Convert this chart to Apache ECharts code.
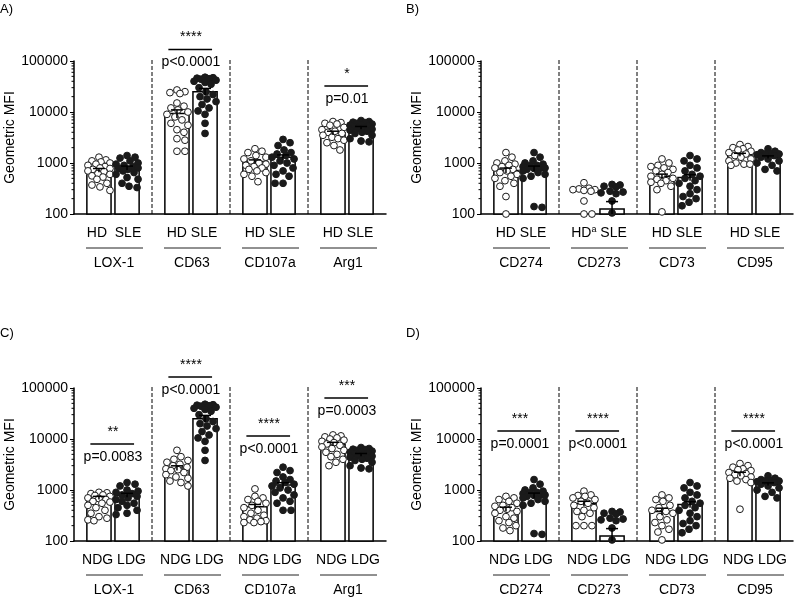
<!DOCTYPE html>
<html><head><meta charset="utf-8">
<script src="https://cdn.jsdelivr.net/npm/echarts@6/dist/echarts.min.js"></script>
<style>html,body{margin:0;padding:0;background:#fff}#c{width:794px;height:597px}</style>
</head><body><div id="c"></div><script>
const FONT = '"Liberation Sans", Arial, Helvetica, sans-serif';

// ---- categories / labels ----
const groupsAC = ['LOX-1', 'CD63', 'CD107a', 'Arg1'];
const groupsBD = ['CD274', 'CD273', 'CD73', 'CD95'];
const pairA = ['HD  SLE', 'HD SLE', 'HD SLE', 'HD SLE'];
const pairB = ['HD SLE', '{n|HD}{s|a}{n| SLE}', 'HD SLE', 'HD SLE'];
const pairCD = ['NDG LDG', 'NDG LDG', 'NDG LDG', 'NDG LDG'];
const yTicks = [100, 1000, 10000, 100000];
const minorTickValues = [200,300,400,500,600,700,800,900,2000,3000,4000,5000,6000,7000,8000,9000,20000,30000,40000,50000,60000,70000,80000,90000];

// ---- panel A: HD (open) vs SLE (filled) ----
const A_HD = [
  [1300,1150,1100,1050,1000,950,900,850,800,780,750,700,680,620,600,560,530,480,400,370,340,290],
  [27000,25000,24000,23000,15000,13000,12000,11000,10000,9000,8000,7000,6000,5500,4500,4000,3000,2800,1700,1700],
  [1900,1700,1600,1400,1300,1200,1100,1000,950,900,850,800,750,700,650,600,550,430],
  [6500,6200,6000,5800,5500,5000,4500,4200,4000,3800,3500,3200,3000,2800,2500,2200,1800]
];
const A_SLE = [
  [1400,1300,1250,1100,1000,950,900,850,800,780,750,700,650,600,520,480,400,350,330],
  [48000,47000,46000,45000,44000,42000,40000,38000,35000,30000,25000,22000,20000,18000,16000,14000,12000,10500,9000,6000,3800],
  [2900,2500,2200,1800,1600,1500,1400,1300,1200,1100,1000,900,800,700,600,550,400,400],
  [6800,6500,6300,6200,6000,5800,5600,5500,5300,5100,5000,4800,4600,4400,4200,4000,3800,3500,3000,2700,2600]
];
const A_HD_mean = [720, 9300, 1070, 3900];
const A_HD_sem = [60, 1700, 80, 300];
const A_SLE_mean = [800, 25000, 1300, 4900];
const A_SLE_sem = [70, 4000, 140, 300];

// ---- panel B ----
const B_HD = [
  [1600,1300,1100,1000,950,900,850,800,750,700,650,600,550,500,450,400,350,220,100],
  [410,320,310,300,300,290,280,180,100,100],
  [1200,1000,900,850,800,750,700,650,600,550,500,480,450,420,400,350,300,110],
  [2300,2100,2000,1900,1800,1700,1600,1500,1400,1300,1200,1100,1000,950,950,900]
];
const B_SLE = [
  [1600,1300,1100,1000,950,900,880,850,800,800,780,750,700,650,600,550,500,140,135],
  [380,370,350,340,280,270,260,250,180,105],
  [1400,1200,1100,900,800,700,600,550,500,450,400,350,300,250,220,200,170,145],
  [1900,1700,1600,1550,1500,1500,1450,1400,1300,1200,1100,1000,900,750,700]
];
const B_HD_mean = [715, null, 545, 1450];
const B_HD_sem = [80, null, 60, 100];
const B_SLE_mean = [780, 125, 520, 1300];
const B_SLE_sem = [90, 50, 70, 80];

// ---- panel C: NDG (open) vs LDG (filled) ----
const C_NDG = [
  [900,880,850,800,780,750,700,680,650,600,580,550,500,450,400,350,300,280,260,250],
  [6000,4500,4000,3800,3500,3200,3000,2800,2600,2500,2400,2200,2000,1800,1700,1500,1400,1200],
  [1050,750,700,650,600,550,500,450,400,350,320,300,280,260,250,240,230,230],
  [12000,11500,11000,10500,10000,9500,9000,8500,8000,7500,7000,6500,6000,5500,5000,4500,4000,3500,3000]
];
const C_LDG = [
  [1400,1300,1200,1000,950,900,850,800,750,700,650,600,550,500,450,400,350,330],
  [48000,47000,46000,45000,44000,42000,40000,38000,35000,30000,25000,22000,20000,18000,16000,14000,12000,10500,9000,6000,3800],
  [2800,2400,2200,1800,1600,1500,1400,1300,1200,1100,1000,900,800,700,600,550,400,400],
  [6800,6500,6300,6200,6000,5800,5600,5500,5300,5100,5000,4800,4600,4400,4200,4000,3800,3500,3000,2700,2600]
];
const C_NDG_mean = [700, 2700, 470, 8000];
const C_NDG_sem = [50, 280, 50, 600];
const C_LDG_mean = [790, 25000, 1250, 4900];
const C_LDG_sem = [70, 4000, 140, 300];

// ---- panel D ----
const D_NDG = [
  [750,700,650,600,550,500,480,450,420,400,380,350,300,280,250,230,200,180,160],
  [950,800,780,750,700,650,600,550,500,450,400,380,350,300,200,200,200],
  [800,700,650,600,500,450,400,380,350,300,260,230,200,170,150,105],
  [3300,3000,2800,2600,2500,2400,2200,2100,2000,1900,1800,1700,1600,1500,1400,420]
];
const D_LDG = [
  [1600,1300,1100,1000,950,900,880,850,800,800,780,750,700,650,600,550,500,140,135],
  [380,370,350,340,280,270,260,250,180,105],
  [1400,1200,1100,900,800,700,600,550,500,450,400,350,300,250,220,200,170,145],
  [1900,1700,1600,1550,1500,1500,1450,1400,1300,1200,1100,1000,900,750,700]
];
const D_NDG_mean = [420, 540, 380, 2050];
const D_NDG_sem = [40, 60, 60, 180];
const D_LDG_mean = [780, 125, 520, 1300];
const D_LDG_sem = [90, 50, 70, 80];

// ---- significance annotations ----
const annA_group = [1, 3], annA_stars = ['****', '*'], annA_p = ['p<0.0001', 'p=0.01'];
const annC_group = [0, 1, 2, 3], annC_stars = ['**', '****', '****', '***'], annC_p = ['p=0.0083', 'p<0.0001', 'p<0.0001', 'p=0.0003'];
const annD_group = [0, 1, 3], annD_stars = ['***', '****', '****'], annD_p = ['p=0.0001', 'p<0.0001', 'p<0.0001'];
// vertical placement of the bracket lines (in axis units)
const annA_at = [168000, 32400];
const annC_at = [8000, 165000, 11500, 63700];
const annD_at = [14400, 14400, 14400];

// ---- layout ----
const OFF = 0.18, HW = 0.155;
const panels = [
  {label:'A)', lx:0, ly:3, grid:{left:74, top:61, width:312, height:153}, groups:groupsAC, pairs:pairA,
   open:A_HD, filled:A_SLE, om:A_HD_mean, os:A_HD_sem, fm:A_SLE_mean, fs:A_SLE_sem,
   ann:{g:annA_group, at:annA_at, s:annA_stars, p:annA_p}},
  {label:'B)', lx:406, ly:3, grid:{left:481, top:61, width:312, height:153}, groups:groupsBD, pairs:pairB,
   open:B_HD, filled:B_SLE, om:B_HD_mean, os:B_HD_sem, fm:B_SLE_mean, fs:B_SLE_sem,
   ann:{g:[], at:[], s:[], p:[]}},
  {label:'C)', lx:0, ly:327, grid:{left:74, top:388, width:312, height:153}, groups:groupsAC, pairs:pairCD,
   open:C_NDG, filled:C_LDG, om:C_NDG_mean, os:C_NDG_sem, fm:C_LDG_mean, fs:C_LDG_sem,
   ann:{g:annC_group, at:annC_at, s:annC_stars, p:annC_p}},
  {label:'D)', lx:406, ly:327, grid:{left:481, top:388, width:312, height:153}, groups:groupsBD, pairs:pairCD,
   open:D_NDG, filled:D_LDG, om:D_NDG_mean, os:D_NDG_sem, fm:D_LDG_mean, fs:D_LDG_sem,
   ann:{g:annD_group, at:annD_at, s:annD_stars, p:annD_p}}
];

function swarm(ys, D, maxW) {
  const order = ys.map((y, i) => i).sort((a, b) => ys[a] - ys[b]);
  const placed = [], xs = new Array(ys.length);
  for (const i of order) {
    const y = ys[i];
    let best = 0, bestScore = -Infinity;
    for (let k = 0; k <= 2 * maxW; k++) {
      const dx = (k % 2 ? 1 : -1) * Math.ceil(k / 2);
      let md = Infinity;
      for (const p of placed) {
        const d = Math.hypot(p[0] - dx, p[1] - y);
        if (d < md) md = d;
      }
      if (md >= D) { best = dx; bestScore = Infinity; break; }
      if (md > bestScore) { bestScore = md; best = dx; }
    }
    xs[i] = best;
    placed.push([best, y]);
  }
  return xs;
}

const txt = (x, y, text, extra) => ({type:'text', x, y, style:Object.assign({text, font:'14px ' + FONT, fill:'#000', align:'center', verticalAlign:'middle'}, extra || {})});

const xAxes = [], yAxes = [], grids = [], series = [], titles = [];
panels.forEach((P, i) => {
  grids.push(Object.assign({containLabel:false}, P.grid));
  titles.push({text:P.label, left:P.lx, top:P.ly, padding:0, textStyle:{fontSize:13, fontWeight:'normal', fontFamily:FONT, color:'#000'}});
  xAxes.push({gridIndex:i, type:'value', min:-0.5, max:3.5,
    axisLine:{show:true, onZero:false, lineStyle:{color:'#000', width:1.5}},
    axisTick:{show:false}, axisLabel:{show:false}, splitLine:{show:false}});
  yAxes.push({gridIndex:i, type:'log', logBase:10, min:100, max:100000,
    axisLine:{show:true, onZero:false, lineStyle:{color:'#000', width:1.5}},
    axisTick:{show:true, length:4, lineStyle:{color:'#000', width:1}},
    axisLabel:{color:'#000', fontSize:14, fontFamily:FONT, margin:6, formatter:v => String(Math.round(v))},
    splitLine:{show:false},
    name:'Geometric MFI', nameLocation:'middle', nameGap:55,
    nameTextStyle:{fontSize:14, color:'#000', fontFamily:FONT}});
  const base = {type:'custom', coordinateSystem:'cartesian2d', xAxisIndex:i, yAxisIndex:i, encode:{x:0, y:1}, silent:true, clip:false};

  // dashed separators
  series.push(Object.assign({}, base, {z:1, data:[[0.5,1000],[1.5,1000],[2.5,1000]],
    renderItem(params, api) {
      const p1 = api.coord([api.value(0), 100]), p2 = api.coord([api.value(0), 100000]);
      return {type:'line', shape:{x1:p1[0], y1:p1[1], x2:p2[0], y2:p2[1] - 3}, style:{stroke:'#000', lineWidth:1, lineDash:[4, 2]}};
    }}));

  // bars
  const barData = [], errData = [];
  for (let g = 0; g < 4; g++) {
    if (P.om[g] != null) { barData.push([g - OFF, P.om[g]]); errData.push([g - OFF, P.om[g], P.os[g]]); }
    if (P.fm[g] != null) { barData.push([g + OFF, P.fm[g]]); errData.push([g + OFF, P.fm[g], P.fs[g]]); }
  }
  series.push(Object.assign({}, base, {z:2, data:barData,
    renderItem(params, api) {
      const x = api.value(0), v = api.value(1);
      const a = api.coord([x - HW, v]), b = api.coord([x + HW, 100]);
      return {type:'rect', shape:{x:a[0], y:a[1], width:b[0] - a[0], height:b[1] - a[1]}, style:{fill:'#fff', stroke:'#000', lineWidth:1.5}};
    }}));

  // dots
  const dotData = [];
  for (let g = 0; g < 4; g++) { dotData.push([g, 1000, 0]); dotData.push([g, 1000, 1]); }
  series.push(Object.assign({}, base, {z:3, data:dotData,
    renderItem(params, api) {
      const g = api.value(0), c = api.value(2);
      const vals = (c ? P.filled : P.open)[g];
      const cx = api.coord([g + (c ? OFF : -OFF), 1000])[0];
      const ys = vals.map(v => api.coord([0, v])[1]);
      const xs = swarm(ys, 7.4, 11);
      return {type:'group', children:ys.map((y, k) => ({type:'circle', shape:{cx:cx + xs[k], cy:y, r:3.4},
        style:{fill:c ? '#1a1a1a' : '#fff', stroke:'#1a1a1a', lineWidth:1}}))};
    }}));

  // error bars (mean ± SEM)
  series.push(Object.assign({}, base, {z:4, data:errData,
    renderItem(params, api) {
      const x = api.value(0), m = api.value(1), s = api.value(2);
      const top = api.coord([x, m + s]), bot = api.coord([x, Math.max(100, m - s)]);
      return {type:'group', children:[
        {type:'line', shape:{x1:top[0], y1:top[1], x2:bot[0], y2:bot[1]}, style:{stroke:'#000', lineWidth:1.5}},
        {type:'line', shape:{x1:top[0] - 6, y1:top[1], x2:top[0] + 6, y2:top[1]}, style:{stroke:'#000', lineWidth:1.5}}
      ]};
    }}));

  // x labels
  series.push(Object.assign({}, base, {z:5, data:[[0,1000],[1,1000],[2,1000],[3,1000]],
    renderItem(params, api) {
      const g = params.dataIndex;
      const p = api.coord([api.value(0), 100]);
      const cx = p[0] + 1, by = p[1];
      return {type:'group', children:[
        txt(cx, by + 19, P.pairs[g], {rich:{n:{font:'14px ' + FONT, fill:'#000'}, s:{font:'9px ' + FONT, fill:'#000', verticalAlign:'top', padding:[0,0,6,0]}}}),
        {type:'line', shape:{x1:cx - 28, y1:by + 34, x2:cx + 29, y2:by + 34}, style:{stroke:'#222', lineWidth:1}},
        txt(cx, by + 49, P.groups[g])
      ]};
    }}));

  // significance annotations
  series.push(Object.assign({}, base, {z:5, data:P.ann.g.map((g, k) => [g, P.ann.at[k]]),
    renderItem(params, api) {
      const k = params.dataIndex, g = api.value(0), h = api.value(1);
      const a = api.coord([g - 0.29, h]), b = api.coord([g + 0.27, h]), c = api.coord([g, h]);
      return {type:'group', children:[
        {type:'line', shape:{x1:a[0], y1:a[1], x2:b[0], y2:b[1]}, style:{stroke:'#000', lineWidth:1.5}},
        txt(c[0], c[1] - 12, P.ann.s[k]),
        txt(c[0], c[1] + 13, P.ann.p[k])
      ]};
    }}));

  // minor ticks on the log axis
  series.push(Object.assign({}, base, {z:5, data:minorTickValues.map(v => [-0.5, v]),
    renderItem(params, api) {
      const p = api.coord([-0.5, api.value(1)]);
      return {type:'line', shape:{x1:p[0] - 2.5, y1:p[1], x2:p[0], y2:p[1]}, style:{stroke:'#000', lineWidth:1}};
    }}));
});

const chart = echarts.init(document.getElementById('c'), null, {renderer:'canvas'});
chart.setOption({animation:false, backgroundColor:'#fff', title:titles, grid:grids, xAxis:xAxes, yAxis:yAxes, series});
</script></body></html>
